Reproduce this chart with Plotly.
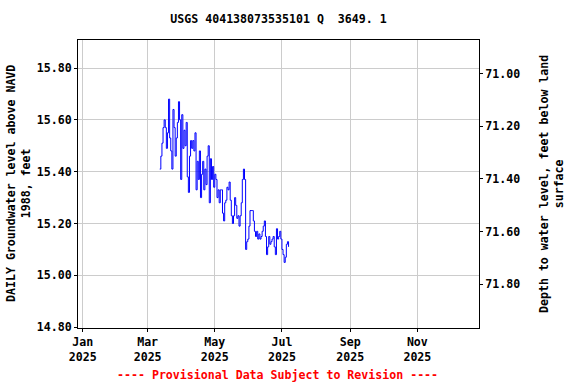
import plotly.graph_objects as go
import pandas as pd

# Daily groundwater level (ft above NAVD 1988), starting 2025-03-12
start_date = "2025-03-12"
levels = [
    15.41, 15.46, 15.51, 15.57, 15.60, 15.57, 15.49, 15.55, 15.68, 15.53,
    15.48, 15.41, 15.64, 15.57, 15.46, 15.53, 15.59, 15.67, 15.60, 15.37,
    15.62, 15.49, 15.56, 15.50, 15.59, 15.38, 15.32, 15.46, 15.52, 15.49,
    15.52, 15.48, 15.55, 15.33, 15.44, 15.37, 15.48, 15.30, 15.39, 15.44,
    15.33, 15.41, 15.35, 15.46, 15.50, 15.28, 15.45, 15.37, 15.42, 15.34,
    15.39, 15.37, 15.30, 15.33, 15.28, 15.33, 15.33, 15.24, 15.21, 15.28,
    15.29, 15.34, 15.33, 15.36, 15.29, 15.23, 15.20, 15.23, 15.30, 15.27,
    15.22, 15.23, 15.19, 15.23, 15.28, 15.37, 15.41, 15.37, 15.10, 15.13,
    15.14, 15.19, 15.25, 15.25, 15.25, 15.21, 15.17, 15.15, 15.17, 15.14,
    15.16, 15.14, 15.15, 15.17, 15.19, 15.21, 15.15, 15.08, 15.11, 15.15,
    15.12, 15.13, 15.14, 15.15, 15.11, 15.08, 15.18, 15.14, 15.15, 15.17,
    15.14, 15.10, 15.08, 15.05, 15.07, 15.12, 15.13, 15.11,
]
dates = pd.date_range(start_date, periods=len(levels), freq="D")

# Land surface offset: depth below land = DATUM - level
DATUM = 86.77
depths = [DATUM - v for v in levels]

x_tick_vals = ["2025-01-01", "2025-03-01", "2025-05-01", "2025-07-01", "2025-09-01", "2025-11-01"]
x_tick_text = ["Jan<br>2025", "Mar<br>2025", "May<br>2025", "Jul<br>2025", "Sep<br>2025", "Nov<br>2025"]
y_tick_vals = [14.8, 15.0, 15.2, 15.4, 15.6, 15.8]
y2_tick_vals = [71.0, 71.2, 71.4, 71.6, 71.8]

FONT = "DejaVu Sans Mono"
FS = 11.6

fig = go.Figure()
fig.add_trace(go.Scatter(x=dates, y=levels, mode="lines",
                         line=dict(color="#0000ff", width=1, shape="hv"),
                         showlegend=False, hoverinfo="x+y"))
fig.add_trace(go.Scatter(x=dates, y=depths, mode="lines", yaxis="y2",
                         line=dict(color="rgba(0,0,0,0)", width=0),
                         showlegend=False, hoverinfo="skip"))

fig.update_layout(
    width=576, height=384,
    margin=dict(l=78, r=97, t=40, b=56),
    paper_bgcolor="white", plot_bgcolor="white",
    font=dict(family=FONT, size=FS, color="black", weight="bold"),
    title=dict(text="USGS 404138073535101 Q  3649. 1", x=(78 + 479) / 2 / 576,
               xanchor="center", y=1 - 19 / 384, yanchor="middle",
               font=dict(family=FONT, size=FS, color="black", weight="bold")),
    xaxis=dict(range=["2024-12-27 18:00", "2025-12-27"],
               tickvals=x_tick_vals, ticktext=x_tick_text,
               showgrid=True, gridcolor="#cccccc", gridwidth=1,
               showline=True, linecolor="black", linewidth=1, mirror=True,
               ticks="outside", ticklen=3, tickcolor="black", zeroline=False),
    yaxis=dict(range=[14.797, 15.908], tickvals=y_tick_vals,
               tickformat=".2f",
               showgrid=True, gridcolor="#cccccc", gridwidth=1,
               showline=True, linecolor="black", linewidth=1, mirror=True,
               ticks="outside", ticklen=3, tickcolor="black", zeroline=False),
    yaxis2=dict(range=[71.967, 70.872], tickvals=y2_tick_vals, tickformat=".2f",
                overlaying="y", side="right", showgrid=False, zeroline=False,
                showline=True, linecolor="black", linewidth=1,
                ticks="outside", ticklen=3, tickcolor="black"),
)

fig.add_annotation(text="DAILY Groundwater level above NAVD<br>1988, feet",
                   xref="paper", yref="paper", x=(18 - 78) / 401, y=0.5,
                   xanchor="center", yanchor="middle", textangle=-90,
                   showarrow=False, font=dict(family=FONT, size=FS, weight="bold"))
fig.add_annotation(text="Depth to water level, feet below land<br>surface",
                   xref="paper", yref="paper", x=(551 - 78) / 401, y=0.5,
                   xanchor="center", yanchor="middle", textangle=-90,
                   showarrow=False, font=dict(family=FONT, size=FS, weight="bold"))
fig.add_annotation(text="---- Provisional Data Subject to Revision ----",
                   xref="paper", yref="paper", x=(277 - 78) / 401, y=(328 - 375) / 288,
                   xanchor="center", yanchor="middle", showarrow=False,
                   font=dict(family=FONT, size=FS, color="red", weight="bold"))

fig.write_html("out.html", config={"displayModeBar": False},
               post_script="document.body.style.margin='0';")
